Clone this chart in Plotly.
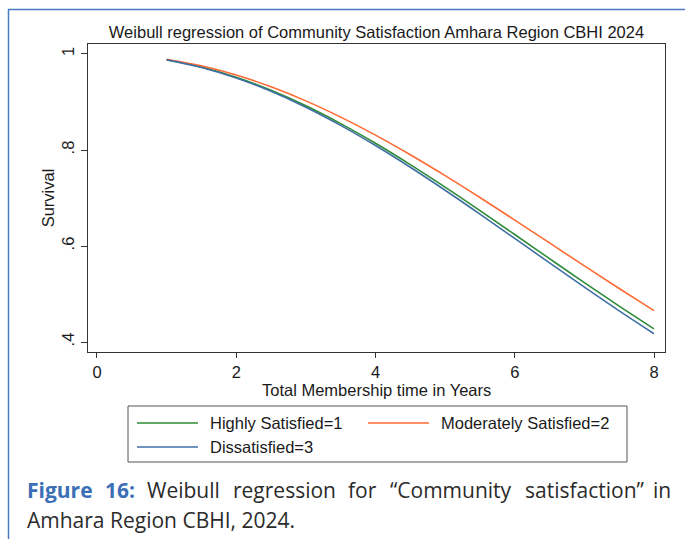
import plotly.graph_objects as go

# ---- data ----
time_years = [1.0, 1.5, 2.0, 2.5, 3.0, 3.5, 4.0, 4.5, 5.0, 5.5, 6.0, 6.5, 7.0, 7.5, 8.0]
highly_satisfied = [0.988, 0.9727, 0.9514, 0.9243, 0.8920, 0.8550, 0.8140, 0.7696, 0.7226,
                    0.6738, 0.6239, 0.5736, 0.5236, 0.4747, 0.4274]
moderately_satisfied = [0.9892, 0.9754, 0.9561, 0.9316, 0.9023, 0.8685, 0.8309, 0.7900, 0.7465,
                        0.7010, 0.6540, 0.6064, 0.5586, 0.5115, 0.4653]
dissatisfied = [0.9877, 0.9720, 0.9501, 0.9223, 0.8892, 0.8513, 0.8093, 0.7640, 0.7161,
                0.6664, 0.6157, 0.5647, 0.5142, 0.4649, 0.4173]

series_names = ["Highly Satisfied=1", "Moderately Satisfied=2", "Dissatisfied=3"]
series_values = [highly_satisfied, moderately_satisfied, dissatisfied]
series_colors = ["#2e8b37", "#ff6a33", "#3f6fa3"]

x_tickvals = [0, 2, 4, 6, 8]
y_tickvals = [0.4, 0.6, 0.8, 1.0]
y_ticktext = [".4", ".6", ".8", "1"]

title_text = "Weibull regression of Community Satisfaction Amhara Region CBHI 2024"
x_title = "Total Membership time in Years"
y_title = "Survival"

# ---- geometry helpers (pixel -> paper) ----
W, H = 685, 539
L, R, T, B = 88, 665, 44, 352


def px(x):
    return (x - L) / (R - L)


def py(y):
    return (B - y) / (B - T)


fig = go.Figure()
for name, vals, col in zip(series_names, series_values, series_colors):
    fig.add_trace(go.Scatter(x=time_years, y=vals, mode="lines", name=name,
                             line=dict(color=col, width=1.6, shape="spline"),
                             showlegend=False))

font_main = "Liberation Sans, Arial, sans-serif"
fs = 16.5

fig.update_layout(
    width=W, height=H,
    margin=dict(l=L, r=W - R, t=T, b=H - B, pad=0),
    paper_bgcolor="white", plot_bgcolor="white",
    font=dict(family=font_main, size=fs, color="#1a1a1a"),
    title=dict(text=title_text, x=(L + R) / 2 / W, xanchor="center",
               y=1 - 32 / H, yanchor="middle", font=dict(size=fs, color="#1a1a1a")),
)

fig.update_xaxes(range=[-0.129, 8.158], tickvals=x_tickvals, ticks="outside", ticklen=5,
                 tickcolor="#333", showline=True, linecolor="#333", linewidth=1, mirror=True,
                 showgrid=False, zeroline=False, tickfont=dict(size=fs))
fig.update_yaxes(range=[0.3792, 1.0208], tickvals=y_tickvals, ticktext=y_ticktext,
                 ticks="outside", ticklen=6, tickcolor="#333", tickangle=-90,
                 showline=True, linecolor="#333", linewidth=1, mirror=True,
                 showgrid=False, zeroline=False, tickfont=dict(size=fs),
                 title=dict(text=y_title, font=dict(size=fs), standoff=0))

shapes = []
annotations = []

# x-axis title
annotations.append(dict(text=x_title, xref="paper", yref="paper", x=0.5, y=py(390),
                        xanchor="center", yanchor="middle", showarrow=False,
                        font=dict(family=font_main, size=fs, color="#1a1a1a")))

# page frame (blue lines on top and left)
frame_col = "#4a78c2"
shapes.append(dict(type="line", xref="paper", yref="paper", x0=px(8), x1=px(W + 2),
                   y0=py(9.5), y1=py(9.5), line=dict(color=frame_col, width=1.5)))
shapes.append(dict(type="line", xref="paper", yref="paper", x0=px(8.5), x1=px(8.5),
                   y0=py(9.5), y1=py(H + 2), line=dict(color=frame_col, width=1.5)))

# legend box
shapes.append(dict(type="rect", xref="paper", yref="paper", x0=px(128), x1=px(627),
                   y0=py(406), y1=py(462), line=dict(color="#555", width=1),
                   fillcolor="white"))
legend_pos = [(137, 423), (368, 423), (137, 447)]
for (lx, ly), name, col in zip(legend_pos, series_names, series_colors):
    shapes.append(dict(type="line", xref="paper", yref="paper", x0=px(lx), x1=px(lx + 61),
                       y0=py(ly), y1=py(ly), line=dict(color=col, width=1.6)))
    annotations.append(dict(text=name, xref="paper", yref="paper", x=px(lx + 71), y=py(ly),
                            xanchor="left", yanchor="middle", showarrow=False,
                            font=dict(family=font_main, size=fs, color="#1a1a1a")))

# caption (justified first line)
cap_font = "Open Sans, sans-serif"
cap_size = 21
cap_blue = "#3b6fb6"
cap_dark = "#2b2b2b"
line1 = [("Figure", 25, cap_blue, True), ("16:", 103, cap_blue, True),
         ("Weibull", 145, cap_dark, False), ("regression", 231, cap_dark, False),
         ("for", 346, cap_dark, False), ("“Community", 388, cap_dark, False),
         ("satisfaction”", 523, cap_dark, False)]
for word, wx, col, bold in line1:
    txt = f"<b>{word}</b>" if bold else word
    annotations.append(dict(text=txt, xref="paper", yref="paper", x=px(wx), y=py(490),
                            xanchor="left", yanchor="middle", showarrow=False,
                            font=dict(family=cap_font, size=cap_size, color=col)))
annotations.append(dict(text="in", xref="paper", yref="paper", x=px(673), y=py(490),
                        xanchor="right", yanchor="middle", showarrow=False,
                        font=dict(family=cap_font, size=cap_size, color=cap_dark)))
annotations.append(dict(text="Amhara Region CBHI, 2024.", xref="paper", yref="paper",
                        x=px(25), y=py(520), xanchor="left", yanchor="middle",
                        showarrow=False, font=dict(family=cap_font, size=cap_size, color=cap_dark)))

fig.update_layout(shapes=shapes, annotations=annotations)

fig.write_html("out.html")
